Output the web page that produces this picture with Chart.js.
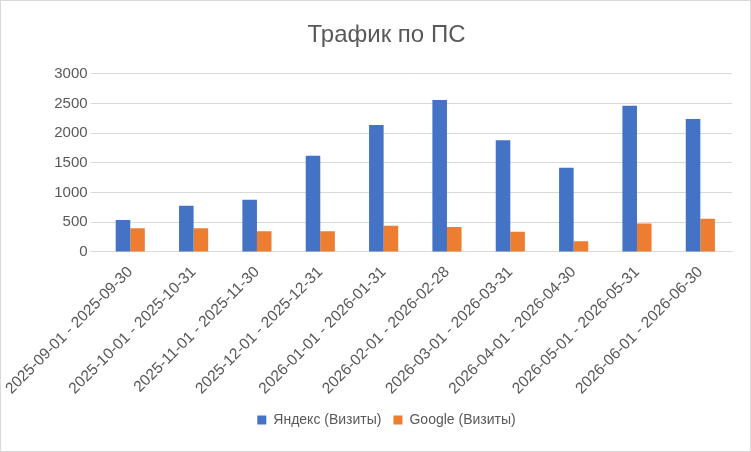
<!DOCTYPE html>
<html><head><meta charset="utf-8">
<script src="https://cdn.jsdelivr.net/npm/chart.js@4"></script>
<style>body{margin:0;background:#fff}#w{position:absolute;left:0;top:0;width:749px;height:450px;border:1px solid #d9d9d9}</style>
</head><body><div id="w"><canvas id="c"></canvas></div>
<script>
const categories=["2025-09-01 - 2025-09-30","2025-10-01 - 2025-10-31","2025-11-01 - 2025-11-30","2025-12-01 - 2025-12-31","2026-01-01 - 2026-01-31","2026-02-01 - 2026-02-28","2026-03-01 - 2026-03-31","2026-04-01 - 2026-04-30","2026-05-01 - 2026-05-31","2026-06-01 - 2026-06-30"];
const yandex=[540,780,880,1620,2140,2560,1880,1420,2460,2240];
const google=[400,400,350,350,440,420,340,180,480,560];
Chart.defaults.font.family="'Liberation Sans', Arial, sans-serif";
Chart.defaults.color="#595959";
new Chart(document.getElementById('c'),{type:'bar',
data:{labels:categories,datasets:[
{label:'Яндекс (Визиты)',data:yandex,backgroundColor:'#4472c4',barPercentage:1,categoryPercentage:0.46},
{label:'Google (Визиты)',data:google,backgroundColor:'#ed7d31',barPercentage:1,categoryPercentage:0.46}]},
options:{responsive:true,maintainAspectRatio:false,animation:false,
layout:{padding:{left:40,right:18,top:12,bottom:14}},
plugins:{title:{display:true,text:'Трафик по ПС',font:{size:24,weight:'normal'},color:'#595959',padding:{top:8,bottom:24}},
legend:{position:'bottom',labels:{boxWidth:9,boxHeight:9,font:{size:14},padding:12}}},
scales:{x:{grid:{display:false},border:{color:'#d9d9d9'},ticks:{maxRotation:45,minRotation:45,font:{size:15.5},color:'#595959'}},
y:{min:0,max:3000,afterFit:s=>{s.width=48},ticks:{stepSize:500,font:{size:15},color:'#595959',callback:v=>String(v)},grid:{color:'#d9d9d9'},border:{display:false}}}}});
</script></body></html>
